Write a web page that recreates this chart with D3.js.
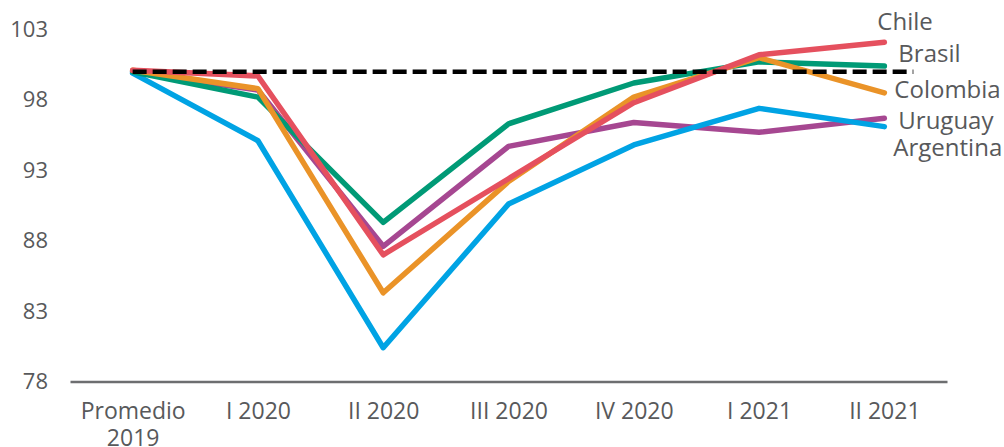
<!DOCTYPE html>
<html>
<head>
<meta charset="utf-8">
<script src="https://cdn.jsdelivr.net/npm/d3@7"></script>
<style>
  html, body { margin: 0; padding: 0; background: #fff; }
  svg { display: block; font-family: "Open Sans", "Noto Sans", sans-serif; }
</style>
</head>
<body>
<svg id="chart" width="1004" height="447"></svg>
<script>
// Quarterly activity index (average 2019 = 100)
const categories = ["Promedio\n2019", "I 2020", "II 2020", "III 2020", "IV 2020", "I 2021", "II 2021"];
const chile     = [100.1, 99.7, 87.0, 92.4, 97.8, 101.2, 102.1];
const brasil    = [100.0, 98.2, 89.3, 96.3, 99.2, 100.7, 100.4];
const colombia  = [100.1, 98.8, 84.3, 92.2, 98.2, 101.0, 98.5];
const uruguay   = [100.0, 98.7, 87.6, 94.7, 96.4, 95.7, 96.7];
const argentina = [99.9, 95.1, 80.4, 90.6, 94.8, 97.4, 96.1];
const baseline  = 100;
const yTicks = [78, 83, 88, 93, 98, 103];

// Drawing order: first entry sits underneath
const series = [
  { name: "Uruguay",   values: uruguay,   color: "#A64791" },
  { name: "Argentina", values: argentina, color: "#00A3E4" },
  { name: "Brasil",    values: brasil,    color: "#009A76" },
  { name: "Colombia",  values: colombia,  color: "#EA9328" },
  { name: "Chile",     values: chile,     color: "#E5505E" }
];
// End-label nudges relative to each line's last point
const labelOffset = {
  Chile:     { dx: -7, dy: -12 },
  Brasil:    { dx: 14, dy: -4 },
  Colombia:  { dx: 10, dy: 5 },
  Uruguay:   { dx: 14, dy: 11 },
  Argentina: { dx: 9,  dy: 29 }
};

const svg = d3.select("#chart");
const W = 1004, H = 447;
const margin = { left: 70, right: 57, top: 29.5, bottom: 65.5 };

const x = d3.scalePoint()
  .domain(categories)
  .range([margin.left, W - margin.right])
  .padding(0.5);

const y = d3.scaleLinear()
  .domain([78, 103])
  .range([H - margin.bottom, margin.top]);

const textColor = "#58595B";
const font = "'Open Sans', 'Noto Sans', sans-serif";

// Y axis: labels only
const yAxis = svg.append("g")
  .attr("transform", `translate(${margin.left - 22},0)`)
  .call(d3.axisLeft(y).tickValues(yTicks).tickSize(0).tickPadding(0));
yAxis.select(".domain").remove();
yAxis.selectAll("text")
  .attr("fill", textColor)
  .style("font-size", "22px")
  .style("font-family", font);

// X axis: baseline rule plus two-line category labels
const xAxis = svg.append("g")
  .attr("transform", `translate(0,${y(78)})`)
  .call(d3.axisBottom(x).tickSize(0).tickPadding(0));
xAxis.select(".domain")
  .attr("stroke", "#6D6E70")
  .attr("stroke-width", 2.5);
xAxis.selectAll(".tick text").each(function(d) {
  const t = d3.select(this);
  t.text(null)
    .attr("fill", textColor)
    .attr("y", 0)
    .attr("dy", null)
    .style("font-size", "23px")
    .style("font-family", font);
  d.split("\n").forEach((line, i) => {
    t.append("tspan").attr("x", 0).attr("y", 37 + i * 27).text(line);
  });
});

const line = d3.line()
  .x((d, i) => x(categories[i]))
  .y(d => y(d));

svg.append("g").selectAll("path")
  .data(series)
  .join("path")
  .attr("d", d => line(d.values))
  .attr("fill", "none")
  .attr("stroke", d => d.color)
  .attr("stroke-width", 5.5)
  .attr("stroke-linejoin", "round")
  .attr("stroke-linecap", "round");

// Reference line at 100, on top of the series
svg.append("line")
  .attr("x1", x(categories[0]))
  .attr("x2", x(categories[categories.length - 1]) + 29)
  .attr("y1", y(baseline))
  .attr("y2", y(baseline))
  .attr("stroke", "#000")
  .attr("stroke-width", 4.5)
  .attr("stroke-dasharray", "14,6");

// End labels
const last = categories.length - 1;
svg.append("g").selectAll("text")
  .data(series)
  .join("text")
  .attr("x", d => x(categories[last]) + labelOffset[d.name].dx)
  .attr("y", d => y(d.values[last]) + labelOffset[d.name].dy)
  .attr("fill", textColor)
  .style("font-size", "24px")
  .style("font-family", font)
  .text(d => d.name);
</script>
</body>
</html>
